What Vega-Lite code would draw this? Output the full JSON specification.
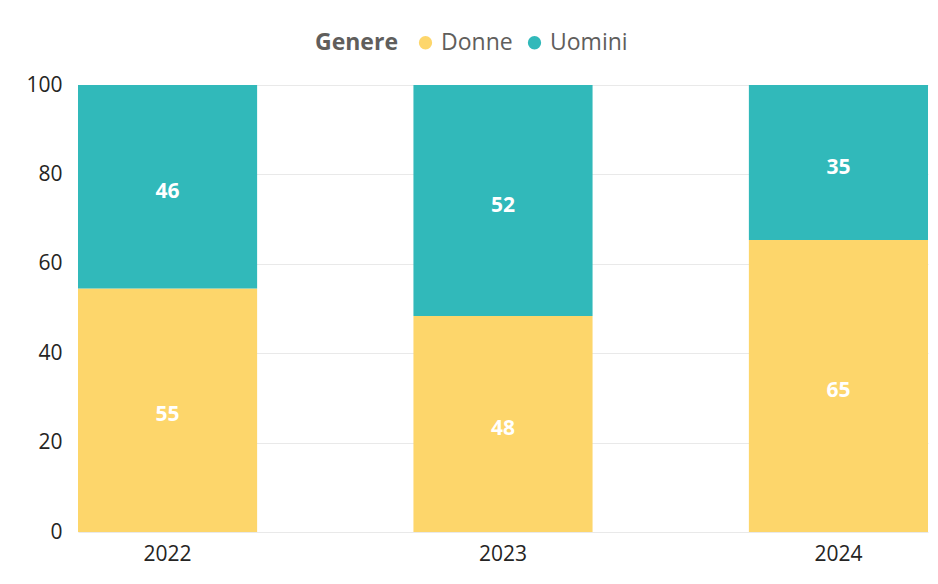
{
  "$schema": "https://vega.github.io/schema/vega-lite/v6.json",
  "autosize": "none",
  "width": 850,
  "height": 447,
  "padding": {"left": 78, "top": 85, "right": 10, "bottom": 52},
  "background": "white",
  "config": {
    "font": "Open Sans",
    "view": {"stroke": null}
  },
  "data": {
    "values": [
      {"Anno": "2022", "Genere": "Donne", "Valore": 54.5},
      {"Anno": "2022", "Genere": "Uomini", "Valore": 45.5},
      {"Anno": "2023", "Genere": "Donne", "Valore": 48.3},
      {"Anno": "2023", "Genere": "Uomini", "Valore": 51.7},
      {"Anno": "2024", "Genere": "Donne", "Valore": 65.3},
      {"Anno": "2024", "Genere": "Uomini", "Valore": 34.7}
    ]
  },
  "transform": [
    {"stack": "Valore", "groupby": ["Anno"], "sort": [{"field": "Genere", "order": "ascending"}], "as": ["v0", "v1"]},
    {"calculate": "(datum.v0 + datum.v1) / 2", "as": "centro"}
  ],
  "encoding": {
    "x": {
      "field": "Anno",
      "type": "nominal",
      "scale": {"paddingInner": 0.466, "paddingOuter": 0},
      "axis": {
        "title": null,
        "labelAngle": 0,
        "labelFontSize": 21,
        "labelColor": "#252423",
        "labelPadding": 11,
        "ticks": false,
        "domain": false,
        "grid": false
      }
    }
  },
  "layer": [
    {
      "mark": {"type": "bar"},
      "encoding": {
        "y": {
          "field": "v0",
          "type": "quantitative",
          "scale": {"domain": [0, 100]},
          "axis": {
            "title": null,
            "values": [0, 20, 40, 60, 80, 100],
            "labelFontSize": 21,
            "labelColor": "#252423",
            "labelPadding": 16,
            "ticks": false,
            "domain": false,
            "gridColor": "#E9E9E9",
            "gridWidth": 1
          }
        },
        "y2": {"field": "v1"},
        "color": {
          "field": "Genere",
          "type": "nominal",
          "scale": {"domain": ["Donne", "Uomini"], "range": ["#FDD66B", "#31B9BA"]},
          "legend": {
            "orient": "none",
            "legendX": 237,
            "legendY": -54,
            "direction": "horizontal",
            "title": "Genere",
            "titleOrient": "left",
            "titleFontSize": 23,
            "titleFontWeight": "bold",
            "titleColor": "#605E5C",
            "titlePadding": 16,
            "labelFontSize": 23,
            "labelColor": "#605E5C",
            "labelOffset": 4,
            "symbolType": "circle",
            "symbolSize": 177,
            "symbolStrokeWidth": 0,
            "columnPadding": 10
          }
        }
      }
    },
    {
      "mark": {"type": "text", "color": "white", "fontSize": 21, "fontWeight": "bold", "baseline": "middle", "dy": 5},
      "encoding": {
        "y": {"field": "centro", "type": "quantitative"},
        "text": {"field": "Valore", "type": "quantitative", "format": ".0f"}
      }
    }
  ]
}
